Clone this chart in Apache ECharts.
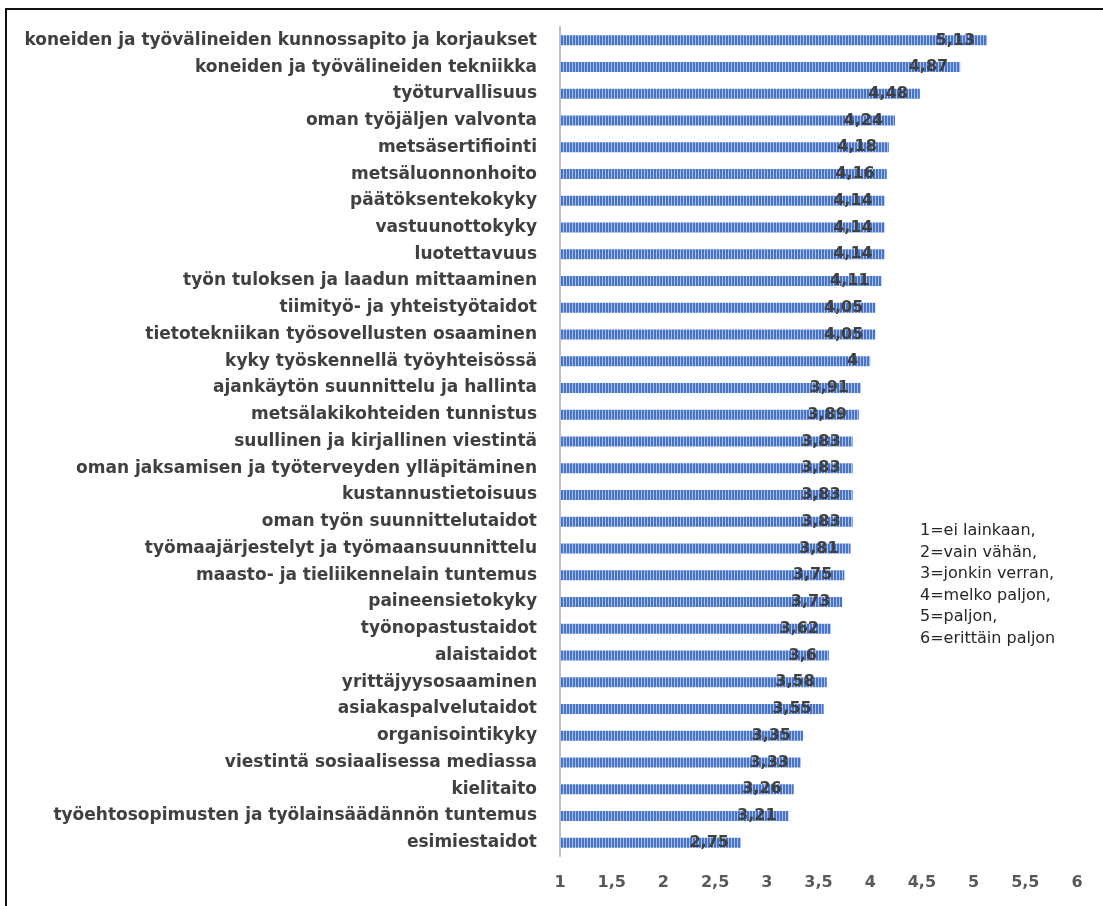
<!DOCTYPE html>
<html><head><meta charset="utf-8">
<script src="https://cdn.jsdelivr.net/npm/echarts@6/dist/echarts.min.js"></script>
<style>html,body{margin:0;padding:0;background:#fff}#c{width:1103px;height:906px}</style>
</head><body><div id="c"></div>
<script>
const categories = [
 "koneiden ja työvälineiden kunnossapito ja korjaukset",
 "koneiden ja työvälineiden tekniikka",
 "työturvallisuus",
 "oman työjäljen valvonta",
 "metsäsertifiointi",
 "metsäluonnonhoito",
 "päätöksentekokyky",
 "vastuunottokyky",
 "luotettavuus",
 "työn tuloksen ja laadun mittaaminen",
 "tiimityö- ja yhteistyötaidot",
 "tietotekniikan työsovellusten osaaminen",
 "kyky työskennellä työyhteisössä",
 "ajankäytön suunnittelu ja hallinta",
 "metsälakikohteiden tunnistus",
 "suullinen ja kirjallinen viestintä",
 "oman jaksamisen ja työterveyden ylläpitäminen",
 "kustannustietoisuus",
 "oman työn suunnittelutaidot",
 "työmaajärjestelyt ja työmaansuunnittelu",
 "maasto- ja tieliikennelain tuntemus",
 "paineensietokyky",
 "työnopastustaidot",
 "alaistaidot",
 "yrittäjyysosaaminen",
 "asiakaspalvelutaidot",
 "organisointikyky",
 "viestintä sosiaalisessa mediassa",
 "kielitaito",
 "työehtosopimusten ja työlainsäädännön tuntemus",
 "esimiestaidot"
];
const values = [5.13,4.87,4.48,4.24,4.18,4.16,4.14,4.14,4.14,4.11,4.05,4.05,4,3.91,3.89,3.83,3.83,3.83,3.83,3.81,3.75,3.73,3.62,3.6,3.58,3.55,3.35,3.33,3.26,3.21,2.75];
const scaleNote = ["1=ei lainkaan,","2=vain vähän,","3=jonkin verran,","4=melko paljon,","5=paljon,","6=erittäin paljon"];

const cv = document.createElement('canvas');
cv.width = 3; cv.height = 4;
const cx = cv.getContext('2d');
cx.fillStyle = '#4674c8'; cx.fillRect(0,0,3,4);
cx.fillStyle = '#aebfe6'; cx.fillRect(2,0,1,4);

const chart = echarts.init(document.getElementById('c'));
chart.setOption({
  animation:false,
  grid:{left:560,right:26,top:27,bottom:50,containLabel:false},
  xAxis:{type:'value',min:1,max:6,interval:0.5,
    axisLine:{show:false},axisTick:{show:false},splitLine:{show:false},
    axisLabel:{margin:19,color:'#595959',fontFamily:'DejaVu Sans',fontWeight:'bold',fontSize:16,
      formatter:v=>String(v).replace('.',',')}},
  yAxis:{type:'category',inverse:true,data:categories,
    axisLine:{show:true,lineStyle:{color:'#bfbfbf',width:2}},axisTick:{show:false},
    axisLabel:{margin:23,color:'#404040',fontFamily:'DejaVu Sans',fontWeight:'bold',fontSize:17}},
  series:[{type:'bar',data:values,barWidth:10,
    itemStyle:{color:{image:cv,repeat:'repeat'}},
    label:{show:true,position:'insideRight',distance:12,color:'#404040',fontFamily:'DejaVu Sans',
      fontWeight:'bold',fontSize:16,formatter:p=>String(p.value).replace('.',',')}}],
  graphic:[
    {type:'line',shape:{x1:5,y1:9,x2:1103,y2:9},style:{stroke:'#111',lineWidth:2}},
    {type:'line',shape:{x1:6,y1:9,x2:6,y2:906},style:{stroke:'#111',lineWidth:2}},
    {type:'text',left:920,top:520,style:{text:scaleNote.join('\n'),fill:'#262626',
      font:'16px "DejaVu Sans"',lineHeight:21.6}}
  ]
});
</script></body></html>
